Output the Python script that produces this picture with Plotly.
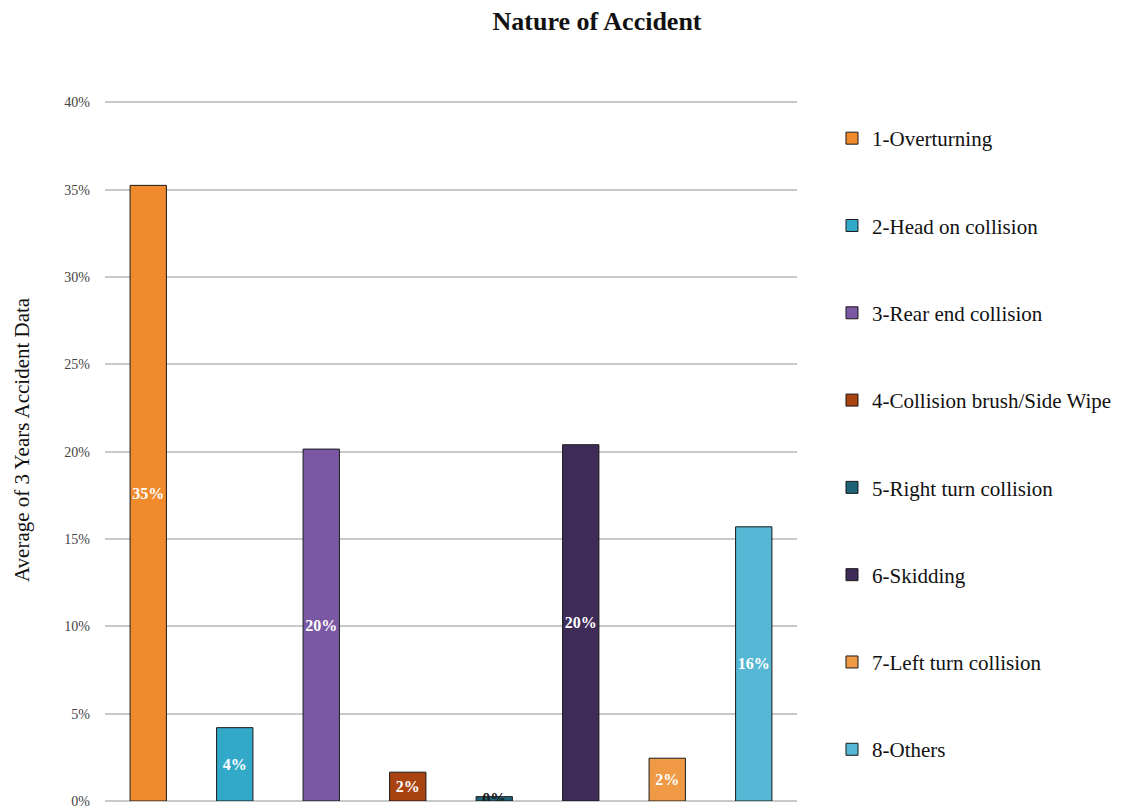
import plotly.graph_objects as go

categories = ["1-Overturning", "2-Head on collision", "3-Rear end collision",
              "4-Collision brush/Side Wipe", "5-Right turn collision", "6-Skidding",
              "7-Left turn collision", "8-Others"]
values = [35.25, 4.2, 20.15, 1.65, 0.25, 20.4, 2.45, 15.7]
labels = ["35%", "4%", "20%", "2%", "0%", "20%", "2%", "16%"]
colors = ["#F08A2C", "#33A9C9", "#7A58A3", "#A9430F", "#1F6275", "#3E2B58", "#F09A45", "#55B7D3"]
label_colors = ["white", "white", "white", "white", "#1a1a1a", "white", "white", "white"]
y_title = "Average of 3 Years Accident Data"
chart_title = "Nature of Accident"

SERIF = "Liberation Serif"

fig = go.Figure()
for i, (c, v, lab, col, lc) in enumerate(zip(categories, values, labels, colors, label_colors)):
    fig.add_trace(go.Bar(
        x=[i], y=[v], name=c, legendgroup=c,
        marker=dict(color=col, line=dict(color="#1a1a1a", width=1)),
        width=0.42,
        text=[lab], textposition="inside", insidetextanchor="middle",
        textangle=0, constraintext="none",
        textfont=dict(family=SERIF, size=16, color=lc, weight="bold"),
    ))

fig.update_layout(
    width=1146, height=809,
    barmode="overlay",
    paper_bgcolor="white", plot_bgcolor="white",
    margin=dict(l=105, r=349, t=101, b=8, autoexpand=False),
    title=dict(text="<b>" + chart_title + "</b>", x=0.521, xref="container", y=0.974, yanchor="middle",
               font=dict(family=SERIF, size=26, color="#111")),
    showlegend=True,
    legend=dict(x=0.726, xref="container", xanchor="left", y=0.8541, yref="container", yanchor="top",
                font=dict(family=SERIF, size=21, color="#111"), maxheight=1,
                tracegroupgap=57, itemwidth=30, traceorder="grouped"),
    xaxis=dict(range=[-0.5, 7.5], showticklabels=False, showgrid=False, zeroline=False,
               showline=False, ticks="", automargin=False),
    yaxis=dict(range=[0, 40.08], dtick=5, ticksuffix="%", showgrid=True, gridcolor="#C8C8C8",
               gridwidth=1.5, zeroline=True, zerolinecolor="#C8C8C8", zerolinewidth=1.5,
               tickfont=dict(family=SERIF, size=14, color="#444"),
               ticklabelstandoff=14, automargin=False),
    annotations=[dict(text=y_title, textangle=-90, xref="paper", yref="paper",
                      x=(22 - 105) / 692, y=(801 - 440) / 700, xanchor="center", yanchor="middle",
                      showarrow=False, font=dict(family=SERIF, size=21, color="#111"))],
)

fig.write_html("out.html")
